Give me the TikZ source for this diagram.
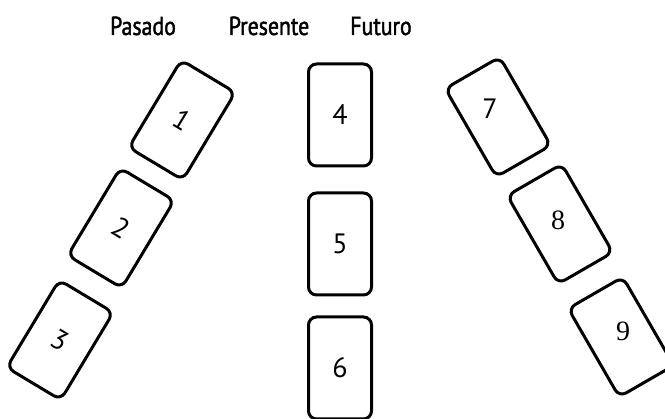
\documentclass[tikz,border=0pt]{standalone}
\usepackage{fontspec}
\setsansfont{PT Sans}
\newfontfamily\headfont{PT Sans}[FakeStretch=0.84,FakeBold=1.6]
\newfontfamily\numserif{Liberation Serif}
\usetikzlibrary{positioning}

\begin{document}
\begin{tikzpicture}[x=1pt,y=1pt,
		card/.style={draw,line width=3pt,rounded corners=8pt,inner sep=0pt,
			minimum width=63pt,minimum height=102pt,font=\sffamily\fontsize{28}{28}\selectfont},
		head/.style={anchor=base,font=\headfont\fontsize{26}{26}\selectfont},
	]
	\useasboundingbox (0,0) rectangle (665,419);
	% headings
	\node[head] (pasado) at (143,384) {Pasado};
	\node[head] (presente) at (269,384) {Presente};
	\node[head] (futuro) at (381,384) {Futuro};
	% presente: upright column
	\node[card] (c4) at (340,304) {4};
	\node[card,below=24pt of c4] (c5) {5};
	\node[card,below=19pt of c5] (c6) {6};
	% pasado: tilted to the right
	\node[card,rotate=-31] (c1) at (182,299) {1};
	\node[card,rotate=-31] (c2) at (121,191) {2};
	\node[card,rotate=-31] (c3) at (60,79) {3};
	% futuro: tilted to the left, numbers upright
	\node[card,rotate=30] (c7) at (498,302) {};
	\node[card,rotate=30] (c8) at (560,195) {};
	\node[card,rotate=30] (c9) at (621,82) {};
	\node[font=\sffamily\fontsize{28}{28}\selectfont] at ([shift={(-8,8)}]c7.center) {7};
	\node[font=\numserif\fontsize{28}{28}\selectfont] at ([shift={(-2,4)}]c8.center) {8};
	\node[font=\numserif\fontsize{28}{28}\selectfont] at ([shift={(2,6)}]c9.center) {9};
\end{tikzpicture}
\end{document}
